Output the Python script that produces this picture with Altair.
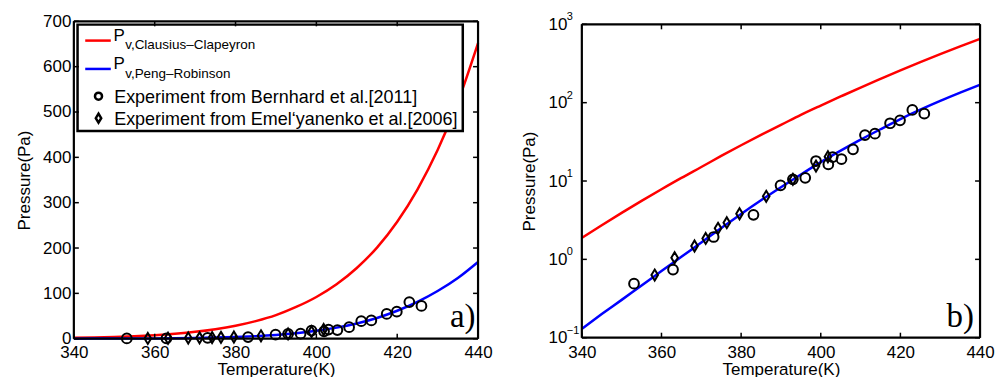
import altair as alt
import pandas as pd

# ---------------- data ----------------
T_curve = [340, 345, 350, 355, 360, 365, 370, 375, 380, 385, 390, 395, 400,
           405, 410, 415, 420, 425, 430, 435, 440]
P_clausius = [1.88, 2.73, 3.92, 5.57, 7.85, 10.96, 15.1, 20.9, 28.6, 38.8, 52.0,
              70.0, 92.0, 120.0, 156.0, 201.0, 258.0, 329.0, 416.0, 522.0, 652.0]
P_peng = [0.130, 0.200, 0.304, 0.465, 0.708, 1.079, 1.644, 2.506, 3.80, 5.68,
          8.34, 12.1, 17.4, 24.4, 33.7, 45.8, 61.7, 81.3, 105.2, 134.0, 169.4]

T_bernhard = [353.1, 362.9, 373.1, 383.1, 389.9, 393.0, 396.1, 398.8, 401.9,
              403.0, 405.2, 408.1, 411.1, 413.6, 417.4, 419.9, 423.0, 426.0]
P_bernhard = [0.49, 0.74, 1.93, 3.7, 8.8, 10.5, 11.0, 18.0, 16.3,
              20.2, 19.0, 25.4, 38.6, 40.2, 54.6, 59.6, 80.7, 72.4]

T_emel = [358.3, 363.3, 368.3, 371.1, 374.2, 376.4, 379.6, 386.3, 393.0, 398.8, 401.8]
P_emel = [0.63, 1.05, 1.48, 1.85, 2.49, 2.94, 3.82, 6.38, 10.5, 15.5, 20.4]

x_ticks = [340, 360, 380, 400, 420, 440]
y_ticks_lin = [0, 100, 200, 300, 400, 500, 600, 700]
y_ticks_log = [0.1, 1, 10, 100, 1000]
log_exponents = ["\u22121", "0", "1", "2", "3"]

legend_main = ["P", "P"]
legend_subs = ["v,Clausius\u2013Clapeyron", "v,Peng\u2013Robinson"]
legend_points = ["Experiment from Bernhard et al.[2011]",
                 "Experiment from Emel\u2018yanenko et al.[2006]"]
panel_labels = ["a)", "b)"]
line_colors = ["#ff0000", "#0000ff"]
frame_sides = ["top", "bottom", "left", "right"]

FONT = "Liberation Sans"
DIAMOND = "M0,-1L0.6,0L0,1L-0.6,0Z"

curves = pd.DataFrame({"T": T_curve, "Pcc": P_clausius, "Ppr": P_peng})
bern = pd.DataFrame({"T": T_bernhard, "P": P_bernhard})
emel = pd.DataFrame({"T": T_emel, "P": P_emel})
xt = pd.DataFrame({"T": x_ticks})


def make_panel(log, W, H, top, bottom, label, label_right):
    xs = alt.Scale(domain=[340, 440], nice=False, zero=False)
    xaxis = alt.Axis(values=x_ticks, ticks=False, domain=False, grid=False,
                     labelPadding=6, labelFlush=False, labelOverlap=False,
                     title="Temperature(K)", titlePadding=1)
    if log:
        ys = alt.Scale(type="log", domain=[0.1, 1000], nice=False, range=[bottom, top])
        yaxis = alt.Axis(values=y_ticks_log, labelExpr="'10'", ticks=False,
                         domain=False, grid=False, labelPadding=15,
                         labelFlush=False, labelOverlap=False,
                         title="Pressure(Pa)", titlePadding=10)
        yt = pd.DataFrame({"P": y_ticks_log, "e": log_exponents})
    else:
        ys = alt.Scale(domain=[0, 700], nice=False, zero=False)
        yaxis = alt.Axis(values=y_ticks_lin, ticks=False, domain=False, grid=False,
                         labelPadding=3, labelFlush=False, labelOverlap=False,
                         title="Pressure(Pa)", titlePadding=9)
        yt = pd.DataFrame({"P": y_ticks_lin})

    X = alt.X("T:Q", scale=xs, axis=xaxis)

    def Y(field="P"):
        return alt.Y(f"{field}:Q", scale=ys, axis=yaxis, title="Pressure(Pa)")

    base = alt.Chart(curves)
    red = base.mark_line(color=line_colors[0], strokeWidth=2.5, interpolate="monotone").encode(
        x=X, y=Y("Pcc"))
    blue = base.mark_line(color=line_colors[1], strokeWidth=2.5, interpolate="monotone").encode(
        x=X, y=Y("Ppr"))
    circ = alt.Chart(bern).mark_point(shape="circle", filled=False, color="black",
                                      size=95, strokeWidth=2, opacity=1).encode(x=X, y=Y())
    diam = alt.Chart(emel).mark_point(shape=DIAMOND, filled=False, color="black",
                                      size=121, strokeWidth=2, opacity=1).encode(x=X, y=Y())

    layers = [red, blue, circ, diam]

    if log:
        expo = alt.Chart(yt).mark_text(font=FONT, fontSize=11, align="left",
                                       baseline="alphabetic", dy=-4, color="black").encode(
            y=Y(), x=alt.value(-15), text="e:N")
        layers.append(expo)
    else:
        box = alt.Chart(pd.DataFrame({"f": ["legend"]})).mark_rect(
            fill="white", stroke="black", strokeWidth=2.5).encode(
            x=alt.value(3.7), x2=alt.value(389.7), y=alt.value(3.3), y2=alt.value(110))
        layers.append(box)
        line_y = [19.3, 47.7]
        for i in range(2):
            d = pd.DataFrame({"m": [legend_main[i]], "s": [legend_subs[i]]})
            c = alt.Chart(d)
            layers.append(c.mark_rule(color=line_colors[i], strokeWidth=2.5).encode(
                x=alt.value(11.4), x2=alt.value(37), y=alt.value(line_y[i])))
            layers.append(c.mark_text(font=FONT, fontSize=17, align="left",
                                      baseline="alphabetic", color="black").encode(
                x=alt.value(39.7), y=alt.value(line_y[i]), text="m:N"))
            layers.append(c.mark_text(font=FONT, fontSize=13.5, align="left",
                                      baseline="alphabetic", color="black").encode(
                x=alt.value(51.4), y=alt.value(line_y[i] + 8.8), text="s:N"))
        pt_y = [75, 97]
        shapes = ["circle", DIAMOND]
        sizes = [50, 81]
        for i in range(2):
            d = pd.DataFrame({"t": [legend_points[i]]})
            c = alt.Chart(d)
            layers.append(c.mark_point(shape=shapes[i], filled=False, color="black",
                                       size=sizes[i], strokeWidth=2.5, opacity=1).encode(
                x=alt.value(24.7), y=alt.value(pt_y[i])))
            layers.append(c.mark_text(font=FONT, fontSize=18, align="left",
                                      baseline="alphabetic", color="black").encode(
                x=alt.value(40.4), y=alt.value(pt_y[i] + 6.7), text="t:N"))

    lab = alt.Chart(pd.DataFrame({"lab": [label]})).mark_text(
        font="Liberation Serif", fontSize=33, align="right", baseline="alphabetic",
        color="black").encode(x=alt.value(W - label_right), y=alt.value(306.5),
                              text="lab:N")
    layers.append(lab)

    # inward ticks on all four sides
    tl = 5
    layers.append(alt.Chart(xt).mark_rule(color="#000000", strokeWidth=1.5).encode(
        x=X, y=alt.value(bottom), y2=alt.value(bottom - tl)))
    layers.append(alt.Chart(xt).mark_rule(color="#000000", strokeWidth=1.5).encode(
        x=X, y=alt.value(top), y2=alt.value(top + tl)))
    layers.append(alt.Chart(yt).mark_rule(color="#000000", strokeWidth=1.5).encode(
        y=Y(), x=alt.value(0), x2=alt.value(tl)))
    layers.append(alt.Chart(yt).mark_rule(color="#000000", strokeWidth=1.5).encode(
        y=Y(), x=alt.value(W - tl), x2=alt.value(W)))

    # box frame
    fw = 2.2
    sides = {
        "top": dict(x=alt.value(0), x2=alt.value(W), y=alt.value(top)),
        "bottom": dict(x=alt.value(0), x2=alt.value(W), y=alt.value(bottom)),
        "left": dict(y=alt.value(top), y2=alt.value(bottom), x=alt.value(0)),
        "right": dict(y=alt.value(top), y2=alt.value(bottom), x=alt.value(W)),
    }
    for s in frame_sides:
        layers.append(alt.Chart(pd.DataFrame({"side": [s]})).mark_rule(
            color="#000000", strokeWidth=fw).encode(**sides[s]))

    return alt.layer(*layers).properties(width=W, height=H)


left = make_panel(False, 405, 318, 0, 318, panel_labels[0], 2.6)
right = make_panel(True, 399, 318, 3, 317, panel_labels[1], 6)

chart = alt.hconcat(left, right, spacing=104, bounds="flush").properties(
    padding={"left": 15, "top": 11, "right": 10, "bottom": 0},
    background="white",
).configure_view(strokeWidth=0).configure_axis(
    labelFont=FONT, titleFont=FONT, labelFontSize=17, titleFontSize=17,
    titleFontWeight="normal", labelColor="black", titleColor="black",
)

chart.save("out.html", embed_options={"renderer": "svg", "actions": False})
